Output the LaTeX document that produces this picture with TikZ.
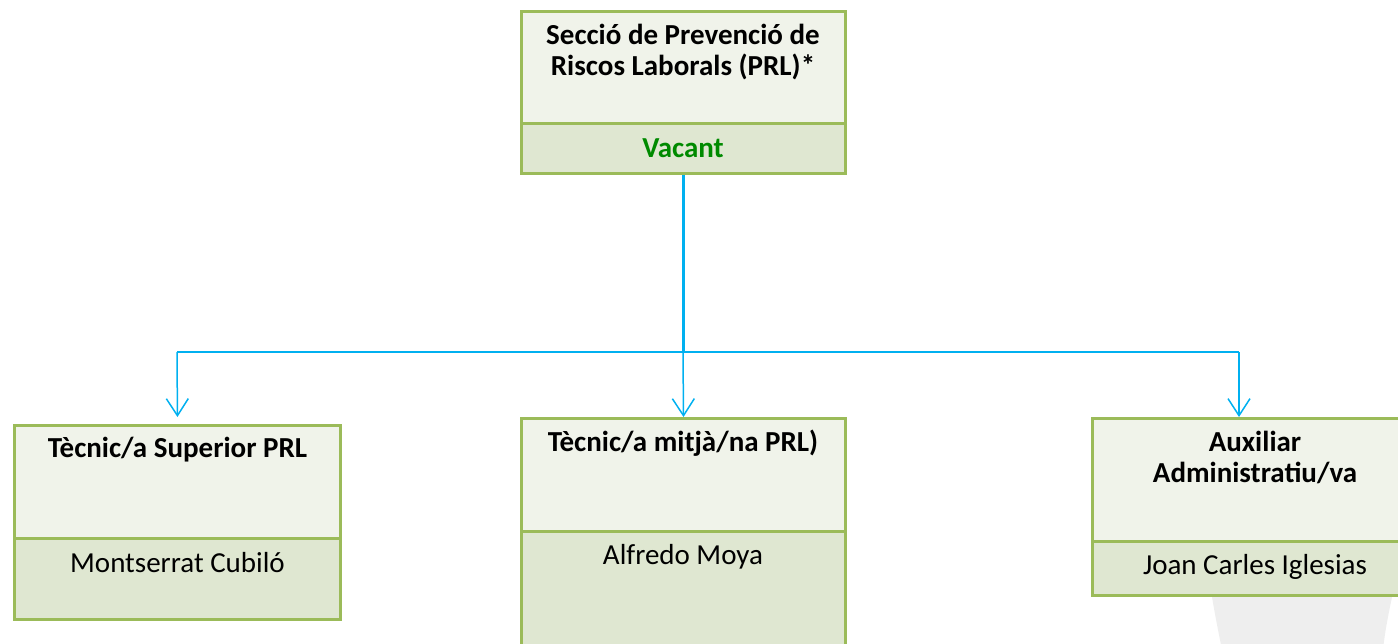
\documentclass[tikz,border=0pt]{standalone}
\usepackage{fontspec}
\setmainfont{Carlito}
\usetikzlibrary{arrows.meta,calc}
\definecolor{bordergreen}{HTML}{9BBB59}
\definecolor{fillA}{HTML}{F0F3EA}
\definecolor{fillB}{HTML}{DFE7D1}
\definecolor{linkblue}{HTML}{00B0F0}
\definecolor{vacantgreen}{HTML}{008A00}
\definecolor{blobgrey}{HTML}{EEEEEE}
\tikzset{
  headbox/.style={draw=bordergreen, fill=fillA, line width=3pt, inner sep=0pt, anchor=north west},
  namebox/.style={draw=bordergreen, fill=fillB, line width=3pt, inner sep=0pt, anchor=north west},
  titletext/.style={font=\fontsize{29}{31}\selectfont\bfseries, text=black, inner sep=0pt, anchor=base},
  nametext/.style={font=\fontsize{29}{31}\selectfont, text=black, inner sep=0pt, anchor=base},
  trunk/.style={draw=linkblue, line width=3pt},
  branch/.style={draw=linkblue, line width=2pt},
  drop/.style={draw=linkblue, line width=1.5pt, -{Straight Barb[length=17pt,width=22pt,line width=1.5pt]}}
}
\begin{document}
\begin{tikzpicture}[x=1pt,y=-1pt]
\useasboundingbox (0,0) rectangle (1398,643);
\clip (0,0) rectangle (1398,643);
% faint background shape
\fill[blobgrey] (1212,597) .. controls (1215,615) and (1218,630) .. (1222,650) -- (1383,650) .. controls (1385,630) and (1389,612) .. (1392,597) -- cycle;
% top box
\node[headbox, minimum width=324pt, minimum height=112pt] (sh) at (520,10) {};
\node[namebox, minimum width=324pt, minimum height=50pt] (sn) at ($(sh.south west)+(0,-3)$) {};
\node[titletext] (st1) at (683,44) {Secció de Prevenció de};
\node[titletext] (st2) at (683,75) {Riscos Laborals (PRL)*};
\node[titletext, text=vacantgreen] (sv) at (683,157) {Vacant};
% left box
\node[headbox, minimum width=326pt, minimum height=112.5pt] (lh) at (13,424) {};
\node[namebox, minimum width=326pt, minimum height=81.5pt] (ln) at ($(lh.south west)+(0,-3)$) {};
\node[titletext] (lt) at (177.5,457) {Tècnic/a Superior PRL};
\node[nametext] (lnm) at (177.5,572) {Montserrat Cubiló};
% middle box
\node[headbox, minimum width=324pt, minimum height=112.5pt] (mh) at (520,417) {};
\node[namebox, minimum width=324pt, minimum height=130pt] (mn) at ($(mh.south west)+(0,-3)$) {};
\node[titletext] (mt) at (683,451) {Tècnic/a mitjà/na PRL)};
\node[nametext] (mnm) at (683,564) {Alfredo Moya};
% right box
\node[headbox, minimum width=326pt, minimum height=122.5pt] (rh) at (1091,417) {};
\node[namebox, minimum width=326pt, minimum height=54.5pt] (rn) at ($(rh.south west)+(0,-3)$) {};
\node[titletext] (rt1) at (1255,451) {Auxiliar};
\node[titletext] (rt2) at (1255,482) {Administratiu/va};
\node[nametext] (rnm) at (1255,574) {Joan Carles Iglesias};
% connectors
\coordinate (hub) at (683,352);
\coordinate (hubl) at (177,352);
\coordinate (hubr) at (1239,352);
\coordinate (rtop) at ($(rh.north west)+(148,0)$);
\draw[trunk] (sn.south) -- (sn.south |- hub);
\draw[branch] (hubl) -- (hubr);
\draw[drop, shorten >=7pt] (hubl) -- (lh.north);
\draw[drop] (hub) -- (mh.north);
\draw[drop] (hubr) -- (rtop);
\end{tikzpicture}
\end{document}
